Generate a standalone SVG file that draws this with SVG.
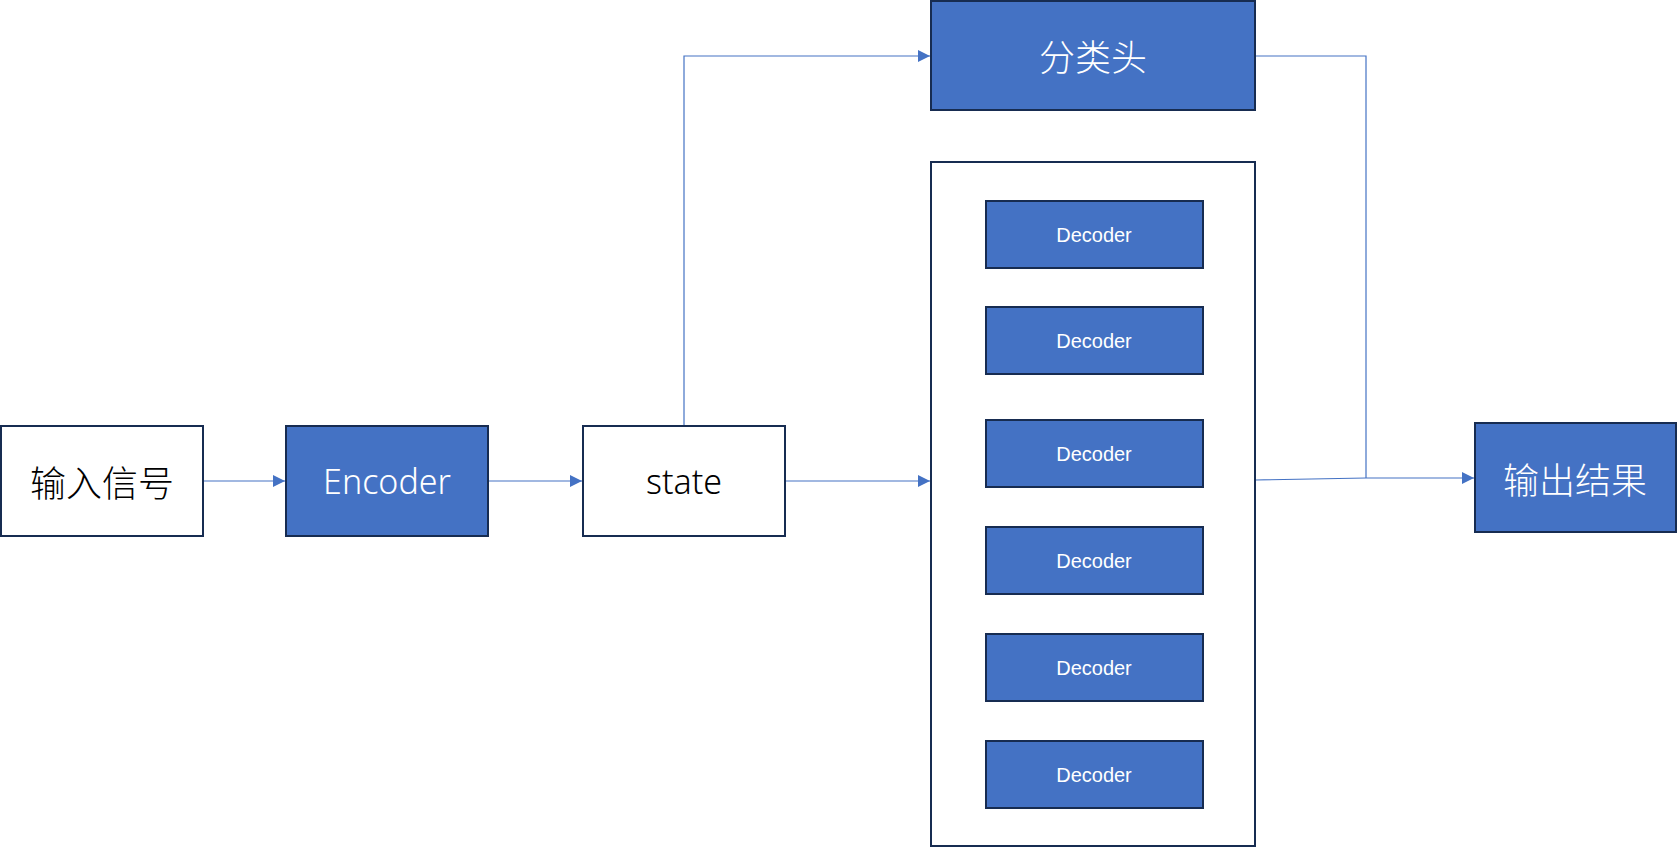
<svg xmlns="http://www.w3.org/2000/svg" width="1678" height="848" viewBox="0 0 1678 848">
<style>
.box{stroke:#172c51;stroke-width:2}
.blue{fill:#4472c4}
.white{fill:#ffffff}
.cn{font-family:"Noto Sans CJK SC","Noto Sans",sans-serif;font-size:36px;font-weight:300;text-anchor:middle;dominant-baseline:central}
.lat{font-family:"Noto Sans","Noto Sans CJK SC",sans-serif;font-size:34px;font-weight:300;text-anchor:middle;dominant-baseline:central}
.dec{font-family:"Liberation Sans",Arial,sans-serif;font-size:20px;fill:#ffffff;text-anchor:middle;dominant-baseline:central}
.wt{fill:#ffffff}
.bk{fill:#000000}
.conn{fill:none;stroke:#4472c4;stroke-width:1.2}
</style>
<defs>
<marker id="arr" markerWidth="12" markerHeight="12" refX="12" refY="6" orient="auto" markerUnits="userSpaceOnUse">
<path d="M0,0 L12,6 L0,12 Z" fill="#4472c4"/>
</marker>
</defs>
<rect width="1678" height="848" fill="#ffffff"/>
<g id="connectors">
<path class="conn" d="M203,481 L285,481" marker-end="url(#arr)"/>
<path class="conn" d="M488,481 L582,481" marker-end="url(#arr)"/>
<path class="conn" d="M785,481 L930,481" marker-end="url(#arr)"/>
<path class="conn" d="M684,426 L684,56 L930,56" marker-end="url(#arr)"/>
<path class="conn" d="M1256,56 L1366,56 L1366,478"/>
<path class="conn" d="M1256,480 L1366,478 L1474,478" marker-end="url(#arr)"/>
</g>
<g id="input">
<rect class="box white" x="1" y="426" width="202" height="110"/>
<text class="cn bk" x="102" y="481">输入信号</text>
</g>
<g id="encoder">
<rect class="box blue" x="286" y="426" width="202" height="110"/>
<text class="lat wt" x="387" y="481">Encoder</text>
</g>
<g id="state">
<rect class="box white" x="583" y="426" width="202" height="110"/>
<text class="lat bk" x="684" y="481">state</text>
</g>
<g id="classifier">
<rect class="box blue" x="931" y="1" width="324" height="109"/>
<text class="cn wt" x="1093" y="55">分类头</text>
</g>
<g id="decoder-stack">
<rect class="box white" x="931" y="162" width="324" height="684"/>
</g>
<g id="decoder1"><rect class="box blue" x="986" y="201" width="217" height="67"/><text class="dec" x="1094" y="235">Decoder</text></g>
<g id="decoder2"><rect class="box blue" x="986" y="307" width="217" height="67"/><text class="dec" x="1094" y="341">Decoder</text></g>
<g id="decoder3"><rect class="box blue" x="986" y="420" width="217" height="67"/><text class="dec" x="1094" y="454">Decoder</text></g>
<g id="decoder4"><rect class="box blue" x="986" y="527" width="217" height="67"/><text class="dec" x="1094" y="561">Decoder</text></g>
<g id="decoder5"><rect class="box blue" x="986" y="634" width="217" height="67"/><text class="dec" x="1094" y="668">Decoder</text></g>
<g id="decoder6"><rect class="box blue" x="986" y="741" width="217" height="67"/><text class="dec" x="1094" y="775">Decoder</text></g>
<g id="output">
<rect class="box blue" x="1475" y="423" width="201" height="109"/>
<text class="cn wt" x="1575" y="478">输出结果</text>
</g>
</svg>
